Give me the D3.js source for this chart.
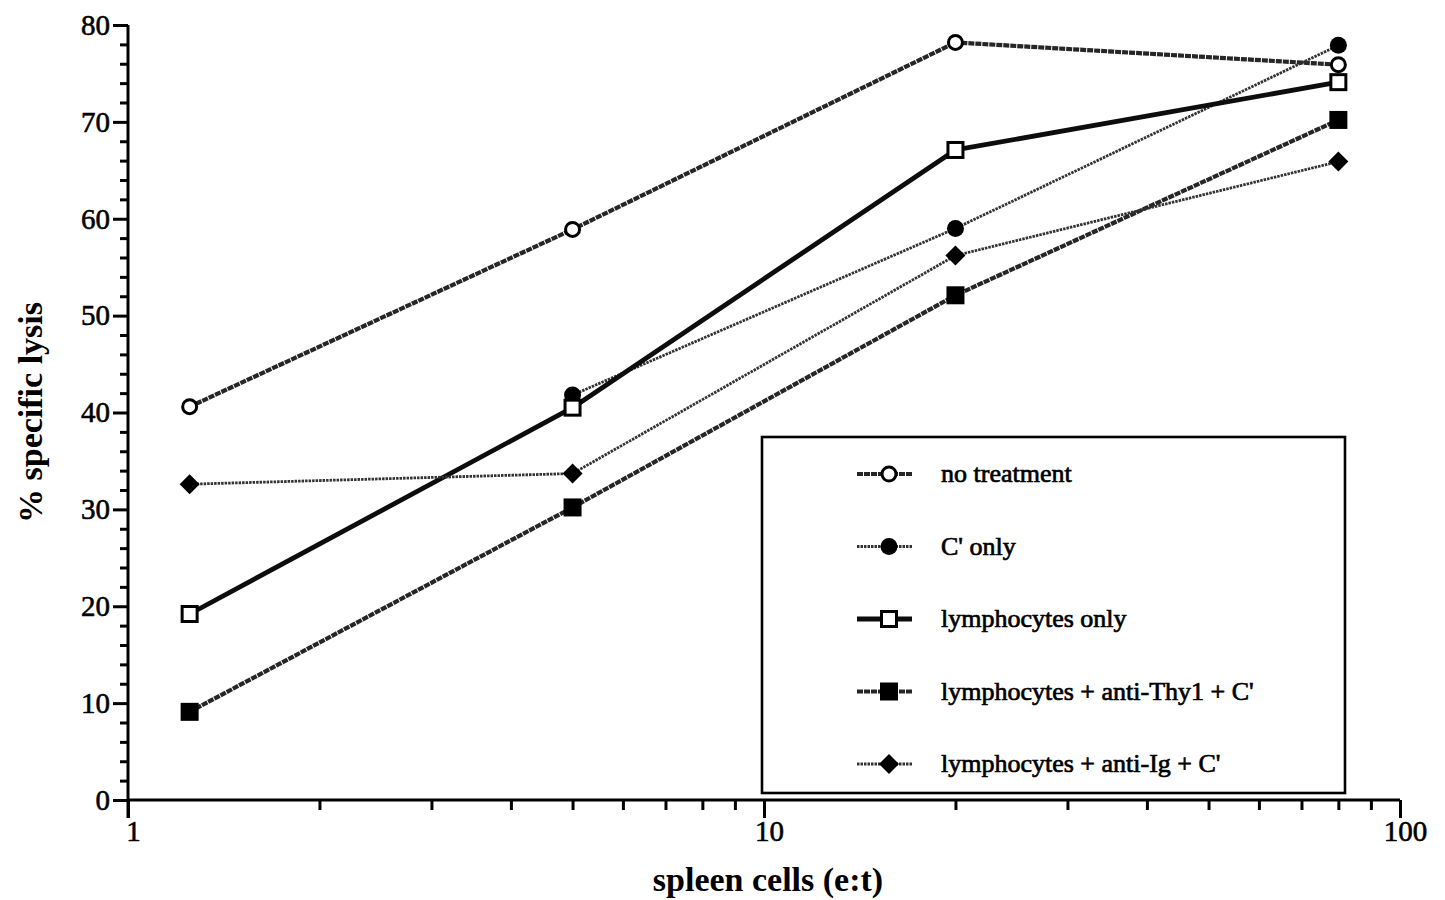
<!DOCTYPE html>
<html>
<head>
<meta charset="utf-8">
<script src="https://cdn.jsdelivr.net/npm/d3@7"></script>
<style>
  html, body { margin: 0; padding: 0; background: #fff; }
  svg { display: block; }
  text { font-family: "Liberation Serif", "Times New Roman", serif; fill: #000; }
</style>
</head>
<body>
<svg id="chart" width="1445" height="900"></svg>
<script>
// Effector:target ratios (spleen cells)
const ratios = [1.25, 5, 20, 80];

// % specific lysis for each treatment group
const noTreatment   = [40.6, 58.9, 78.2, 75.9];
const cOnly         = [null, 41.8, 59.0, 77.9];
const lymphOnly     = [19.2, 40.5, 67.1, 74.1];
const antiThy1      = [9.1, 30.2, 52.1, 70.2];
const antiIg        = [32.6, 33.7, 56.2, 65.9];

const seriesNames = [
  "no treatment",
  "C' only",
  "lymphocytes only",
  "lymphocytes + anti-Thy1 + C'",
  "lymphocytes + anti-Ig + C'"
];

const yMajorTicks = [0, 10, 20, 30, 40, 50, 60, 70, 80];
const xMajorTicks = [1, 10, 100];

const svg = d3.select("#chart");

const x = d3.scaleLog().domain([1, 100]).range([128, 1400]);
const y = d3.scaleLinear().domain([0, 80]).range([800, 25]);

// line/marker styling per series
const styles = [
  { values: noTreatment, marker: "openCircle",   color: "#262626", width: 4.2, dash: "6,1" },
  { values: cOnly,       marker: "filledCircle", color: "#333",    width: 2.8, dash: "2.5,1" },
  { values: lymphOnly,   marker: "openSquare",   color: "#0d0d0d", width: 4.8, dash: null },
  { values: antiThy1,    marker: "filledSquare", color: "#262626", width: 4.2, dash: "6,1" },
  { values: antiIg,      marker: "diamond",      color: "#333",    width: 2.8, dash: "2.5,1" }
];

function drawMarker(g, type, cx, cy) {
  if (type === "openCircle") {
    g.append("circle").attr("cx", cx).attr("cy", cy).attr("r", 7)
      .attr("fill", "#fff").attr("stroke", "#000").attr("stroke-width", 3);
  } else if (type === "filledCircle") {
    g.append("circle").attr("cx", cx).attr("cy", cy).attr("r", 8.5).attr("fill", "#000");
  } else if (type === "openSquare") {
    g.append("rect").attr("x", cx - 7.5).attr("y", cy - 7.5).attr("width", 15).attr("height", 15)
      .attr("fill", "#fff").attr("stroke", "#000").attr("stroke-width", 3);
  } else if (type === "filledSquare") {
    g.append("rect").attr("x", cx - 9).attr("y", cy - 9).attr("width", 18).attr("height", 18)
      .attr("fill", "#000");
  } else if (type === "diamond") {
    g.append("path").attr("d", `M${cx},${cy - 10}L${cx + 10},${cy}L${cx},${cy + 10}L${cx - 10},${cy}Z`)
      .attr("fill", "#000");
  }
}

// ---- axes ----
const axisG = svg.append("g");

// y axis: major ticks with labels, minor ticks every 2
const yAxis = d3.axisLeft(y).tickValues(yMajorTicks).tickSize(15).tickPadding(3).tickFormat(d3.format("d"));
const yAxisMinor = d3.axisLeft(y).tickValues(d3.range(0, 81, 2).filter(v => v % 10 !== 0)).tickSize(8).tickFormat("");

const gy = axisG.append("g").attr("transform", `translate(${x(1)},0)`).call(yAxis);
const gyMinor = axisG.append("g").attr("transform", `translate(${x(1)},0)`).call(yAxisMinor);

// x axis: log scale with minor ticks 2..9 per decade
const xMinorVals = [];
[1, 10].forEach(base => { for (let k = 2; k <= 9; k++) xMinorVals.push(base * k); });
const xAxis = d3.axisBottom(x).tickValues(xMajorTicks).tickSize(18).tickPadding(2).tickFormat(d3.format("d"));
const xAxisMinor = d3.axisBottom(x).tickValues(xMinorVals).tickSize(10).tickFormat("");

const gx = axisG.append("g").attr("transform", `translate(0,${y(0)})`).call(xAxis);
const gxMinor = axisG.append("g").attr("transform", `translate(0,${y(0)})`).call(xAxisMinor);

[gy, gyMinor, gx, gxMinor].forEach(g => {
  g.selectAll("path.domain").attr("stroke", "#000").attr("stroke-width", 3);
  g.selectAll(".tick line").attr("stroke", "#000").attr("stroke-width", 3);
  g.selectAll(".tick text")
    .style("font-family", "'Liberation Serif', serif")
    .style("font-size", "29px")
    .attr("fill", "#000")
    .attr("stroke", "#000").attr("stroke-width", 0.6);
});
gx.selectAll(".tick text").attr("dx", 5);
// keep the domain path clean (no outer end ticks)
gy.select("path.domain").attr("d", `M0,${y(80)}V${y(0) + 18}`);
gyMinor.select("path.domain").remove();
gx.select("path.domain").attr("d", `M${x(1)},0H${x(100)}`);
gxMinor.select("path.domain").remove();

// axis titles
svg.append("text")
  .attr("x", 768).attr("y", 891)
  .attr("text-anchor", "middle")
  .style("font-size", "34px").style("font-weight", "bold")
  .text("spleen cells (e:t)");

svg.append("text")
  .attr("transform", `translate(42,${(y(0) + y(80)) / 2}) rotate(-90)`)
  .attr("text-anchor", "middle")
  .style("font-size", "34px").style("font-weight", "bold")
  .text("% specific lysis");

// ---- series lines ----
const lineGen = d3.line()
  .defined(d => d.v !== null)
  .x(d => x(d.r))
  .y(d => y(d.v));

const plotG = svg.append("g");
styles.forEach(s => {
  const pts = ratios.map((r, i) => ({ r, v: s.values[i] }));
  plotG.append("path")
    .datum(pts)
    .attr("d", lineGen)
    .attr("fill", "none")
    .attr("stroke", s.color)
    .attr("stroke-width", s.width)
    .attr("stroke-linejoin", "round")
    .attr("stroke-dasharray", s.dash);
});

// ---- markers ----
const markG = svg.append("g");
styles.forEach(s => {
  ratios.forEach((r, i) => {
    if (s.values[i] === null) return;
    drawMarker(markG, s.marker, x(r), y(s.values[i]));
  });
});

// ---- legend ----
const legend = svg.append("g");
legend.append("rect")
  .attr("x", 762).attr("y", 437).attr("width", 583).attr("height", 356)
  .attr("fill", "#fff").attr("stroke", "#000").attr("stroke-width", 2.6);

const rowY = d3.scalePoint().domain(seriesNames).range([474, 764]);
seriesNames.forEach((name, i) => {
  const s = styles[i];
  const cy = rowY(name);
  legend.append("line")
    .attr("x1", 857).attr("x2", 912).attr("y1", cy).attr("y2", cy)
    .attr("stroke", s.color).attr("stroke-width", s.width)
    .attr("stroke-dasharray", s.dash);
  drawMarker(legend, s.marker, 889, cy);
  legend.append("text")
    .attr("x", 941).attr("y", cy + 8)
    .style("font-size", "26px")
    .attr("stroke", "#000").attr("stroke-width", 0.7)
    .text(name);
});
</script>
</body>
</html>
